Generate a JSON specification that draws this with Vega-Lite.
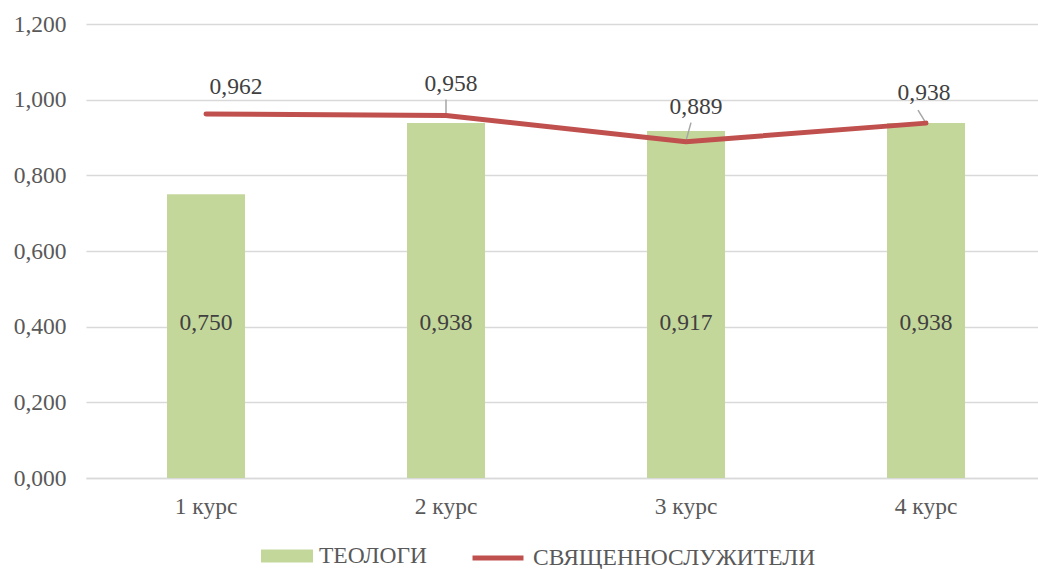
{
  "$schema": "https://vega.github.io/schema/vega-lite/v6.json",
  "autosize": "none",
  "padding": {"left": 86, "top": 24, "right": 0, "bottom": 91},
  "width": 960,
  "height": 454,
  "background": "white",
  "config": {
    "locale": {"number": {"decimal": ",", "thousands": " ", "grouping": [3], "currency": ["", " ₽"]}},
    "font": "Liberation Serif",
    "view": {"stroke": null}
  },
  "data": {
    "values": [
      {"course": "1 курс", "teo": 0.750, "sv": 0.962},
      {"course": "2 курс", "teo": 0.938, "sv": 0.958},
      {"course": "3 курс", "teo": 0.917, "sv": 0.889},
      {"course": "4 курс", "teo": 0.938, "sv": 0.938}
    ]
  },
  "encoding": {
    "x": {
      "field": "course", "type": "nominal", "sort": null,
      "scale": {"paddingInner": 0.675, "paddingOuter": 0.3375},
      "axis": {"title": null, "labelAngle": 0, "labelFontSize": 23.5, "labelColor": "#595959", "labelPadding": 16, "ticks": false, "domain": true, "domainColor": "#D9D9D9", "domainWidth": 1.5}
    }
  },
  "layer": [
    {
      "mark": {"type": "bar"},
      "encoding": {
        "y": {
          "field": "teo", "type": "quantitative",
          "scale": {"domain": [0, 1.2], "nice": false},
          "axis": {"title": null, "values": [0, 0.2, 0.4, 0.6, 0.8, 1.0, 1.2], "format": ".3f", "labelFontSize": 23.5, "labelColor": "#595959", "labelPadding": 20, "ticks": false, "domain": false, "gridColor": "#D9D9D9", "gridWidth": 1.5}
        },
        "fill": {
          "datum": "ТЕОЛОГИ",
          "scale": {"range": ["#C4D79B"]},
          "legend": {"title": null, "orient": "none", "legendX": 175, "legendY": 506, "symbolType": "M-1,-0.25H1V0.25H-1Z", "symbolSize": 2704, "symbolStrokeWidth": 0, "labelFontSize": 23.5, "labelColor": "#595959", "labelOffset": 6, "labelLimit": 0, "padding": 0}
        }
      }
    },
    {
      "mark": {"type": "text", "fontSize": 23.5, "color": "#404040"},
      "encoding": {
        "y": {"datum": 0.41},
        "text": {"field": "teo", "type": "quantitative", "format": ".3f"}
      }
    },
    {
      "transform": [{"filter": "datum.course === '2 курс'"}],
      "mark": {"type": "rule", "color": "#A6A6A6", "strokeWidth": 1.5, "yOffset": -2, "y2Offset": -16},
      "encoding": {
        "y": {"field": "sv", "type": "quantitative"},
        "y2": {"field": "sv"}
      }
    },
    {
      "transform": [{"filter": "datum.course === '3 курс'"}],
      "mark": {"type": "rule", "color": "#A6A6A6", "strokeWidth": 1.5, "xOffset": 0, "x2Offset": 5, "yOffset": -1, "y2Offset": -19},
      "encoding": {
        "x2": {"field": "course"},
        "y": {"field": "sv", "type": "quantitative"},
        "y2": {"field": "sv"}
      }
    },
    {
      "transform": [{"filter": "datum.course === '4 курс'"}],
      "mark": {"type": "rule", "color": "#A6A6A6", "strokeWidth": 1.5, "xOffset": 0, "x2Offset": -8, "yOffset": 0, "y2Offset": -13},
      "encoding": {
        "x2": {"field": "course"},
        "y": {"field": "sv", "type": "quantitative"},
        "y2": {"field": "sv"}
      }
    },
    {
      "mark": {"type": "line", "strokeWidth": 5, "strokeCap": "round", "strokeJoin": "round"},
      "encoding": {
        "y": {"field": "sv", "type": "quantitative"},
        "stroke": {
          "datum": "СВЯЩЕННОСЛУЖИТЕЛИ",
          "scale": {"range": ["#C0504D"]},
          "legend": {"title": null, "orient": "none", "legendX": 384, "legendY": 506, "symbolType": "stroke", "symbolSize": 2600, "symbolStrokeWidth": 5, "labelFontSize": 23.5, "labelColor": "#595959", "labelOffset": 7, "labelLimit": 0, "padding": 0}
        }
      }
    },
    {
      "transform": [{"filter": "datum.course === '1 курс'"}],
      "mark": {"type": "text", "fontSize": 23.5, "color": "#404040", "dx": 30, "dy": -27},
      "encoding": {
        "y": {"field": "sv", "type": "quantitative"},
        "text": {"field": "sv", "type": "quantitative", "format": ".3f"}
      }
    },
    {
      "transform": [{"filter": "datum.course === '2 курс'"}],
      "mark": {"type": "text", "fontSize": 23.5, "color": "#404040", "dx": 5, "dy": -32},
      "encoding": {
        "y": {"field": "sv", "type": "quantitative"},
        "text": {"field": "sv", "type": "quantitative", "format": ".3f"}
      }
    },
    {
      "transform": [{"filter": "datum.course === '3 курс'"}],
      "mark": {"type": "text", "fontSize": 23.5, "color": "#404040", "dx": 10, "dy": -35},
      "encoding": {
        "y": {"field": "sv", "type": "quantitative"},
        "text": {"field": "sv", "type": "quantitative", "format": ".3f"}
      }
    },
    {
      "transform": [{"filter": "datum.course === '4 курс'"}],
      "mark": {"type": "text", "fontSize": 23.5, "color": "#404040", "dx": -2, "dy": -30},
      "encoding": {
        "y": {"field": "sv", "type": "quantitative"},
        "text": {"field": "sv", "type": "quantitative", "format": ".3f"}
      }
    }
  ]
}
